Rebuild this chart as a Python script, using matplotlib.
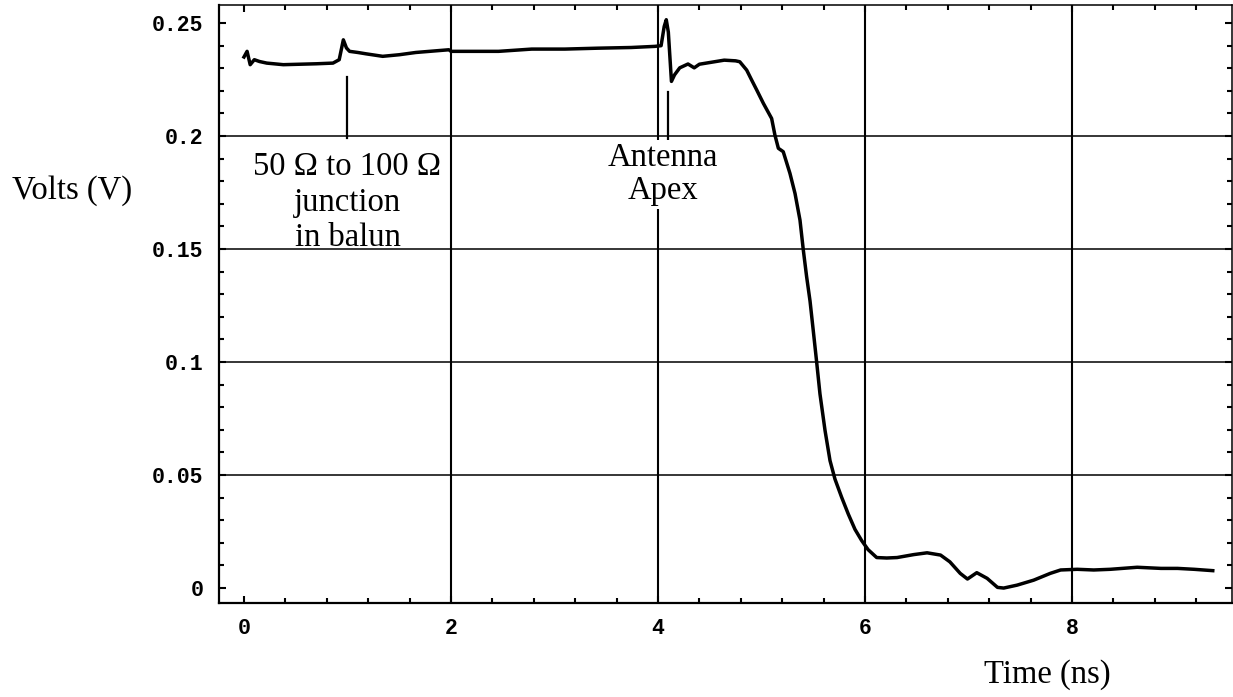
import matplotlib.pyplot as plt
from matplotlib.ticker import MultipleLocator, FixedLocator, FixedFormatter

# trace
t_ns = [0.00, 0.03, 0.06, 0.10, 0.15, 0.22, 0.38, 0.54, 0.70, 0.86, 0.92, 0.96, 0.99,
        1.02, 1.10, 1.18, 1.34, 1.50, 1.66, 1.98, 2.00, 2.46, 2.78, 3.10, 3.42, 3.74,
        3.97, 4.03, 4.06, 4.08, 4.10, 4.13, 4.16, 4.21, 4.29, 4.35, 4.40, 4.48, 4.64,
        4.75, 4.79, 4.857, 4.905, 4.954, 5.018, 5.098, 5.13, 5.163, 5.21, 5.275, 5.324,
        5.372, 5.404, 5.436, 5.469, 5.50, 5.533, 5.565, 5.614, 5.662, 5.71, 5.775, 5.839,
        5.903, 5.968, 6.03, 6.113, 6.21, 6.31, 6.47, 6.60, 6.73, 6.82,
        6.92, 6.99, 7.08, 7.18, 7.28, 7.34, 7.47, 7.63, 7.79, 7.89, 8.05, 8.21, 8.37,
        8.63, 8.86, 9.02, 9.18, 9.36]
volts = [0.2350, 0.2375, 0.2316, 0.2338, 0.2330, 0.2323, 0.2316, 0.2318, 0.2320, 0.2323,
         0.2338, 0.2426, 0.2390, 0.2375, 0.2370, 0.2364, 0.2353, 0.2360, 0.2370, 0.2382,
         0.2375, 0.2375, 0.2385, 0.2385, 0.2389, 0.2392, 0.2397, 0.2400, 0.2485, 0.2515,
         0.2460, 0.2242, 0.2271, 0.2302, 0.2319, 0.2302, 0.2318, 0.2324, 0.2336,
         0.2333, 0.2329, 0.2292, 0.2248, 0.2204, 0.2145, 0.2078, 0.2004, 0.1946, 0.1931,
         0.1835, 0.1746, 0.1628, 0.1496, 0.1378, 0.1270, 0.1140, 0.1000, 0.0859, 0.0697,
         0.0564, 0.0482, 0.0401, 0.0327, 0.0260, 0.0210, 0.0170, 0.0135, 0.0133, 0.0135,
         0.0148, 0.0156, 0.0146, 0.0116, 0.0065, 0.0040, 0.0068, 0.0043, 0.0003,
         0.0000, 0.0013, 0.0035, 0.0065, 0.0080, 0.0083, 0.0080, 0.0083, 0.0092, 0.0087,
         0.0087, 0.0083, 0.0077]

grid_x = [2, 4, 6, 8]
grid_y = [0.05, 0.1, 0.15, 0.2]
xtick_vals = [0, 2, 4, 6, 8]
xtick_labels = ['0', '2', '4', '6', '8']
ytick_vals = [0, 0.05, 0.1, 0.15, 0.2, 0.25]
ytick_labels = ['0', '0.05', '0.1', '0.15', '0.2', '0.25']

serif = 'Liberation Serif'
mono = 'Liberation Mono'

fig = plt.figure(figsize=(12.33, 6.97), dpi=100)
ax = fig.add_axes([0.1776, 0.1349, 0.8216, 0.8579])

ax.vlines(grid_x, -1, 1, colors='black', linewidth=1.5, zorder=1)
ax.hlines(grid_y, -1, 10, colors='black', linewidth=1.1, zorder=1)

ax.plot(t_ns, volts, color='black', linewidth=2.5, zorder=3)

# pointer lines
ax.plot([1.0, 1.0], [0.1991, 0.2261], color='black', linewidth=1.6, zorder=3)
ax.plot([4.1, 4.1], [0.1924, 0.2196], color='black', linewidth=1.6, zorder=3)

ax.text(1.0, 0.1707, '50 \u03a9 to 100 \u03a9\njunction\nin balun', family=serif,
        fontsize=23.5, ha='center', va='center', multialignment='center',
        linespacing=1.22, zorder=4)
ax.text(4.05, 0.183, 'Antenna\nApex', family=serif, fontsize=23.5, ha='center',
        va='center', multialignment='center', linespacing=1.1, zorder=4,
        bbox=dict(facecolor='white', edgecolor='none', boxstyle='square,pad=0.1'))

ax.set_xlim(-0.2415, 9.546)
ax.set_ylim(-0.0066, 0.258)

ax.xaxis.set_major_locator(FixedLocator(xtick_vals))
ax.xaxis.set_major_formatter(FixedFormatter(xtick_labels))
ax.xaxis.set_minor_locator(MultipleLocator(0.4))
ax.yaxis.set_major_locator(FixedLocator(ytick_vals))
ax.yaxis.set_major_formatter(FixedFormatter(ytick_labels))
ax.yaxis.set_minor_locator(MultipleLocator(0.01))

ax.tick_params(which='both', direction='in', top=True, right=True, width=1.5)
ax.tick_params(which='major', length=5, pad=11)
ax.tick_params(which='minor', length=3.5)
for lab in ax.get_xticklabels() + ax.get_yticklabels():
    lab.set_family(mono)
    lab.set_fontweight('bold')
    lab.set_fontsize(15.5)

for side in ['left', 'bottom']:
    ax.spines[side].set_linewidth(1.6)
for side in ['top', 'right']:
    ax.spines[side].set_linewidth(1.1)

ax.set_ylabel('Volts (V)', family=serif, fontsize=23.5, rotation=0, ha='center', va='center')
ax.yaxis.set_label_coords(-0.145, 0.69)
ax.set_xlabel('Time (ns)', family=serif, fontsize=23.5, ha='center', va='center')
ax.xaxis.set_label_coords(0.818, -0.12)

fig.savefig('out.png', dpi=100)
